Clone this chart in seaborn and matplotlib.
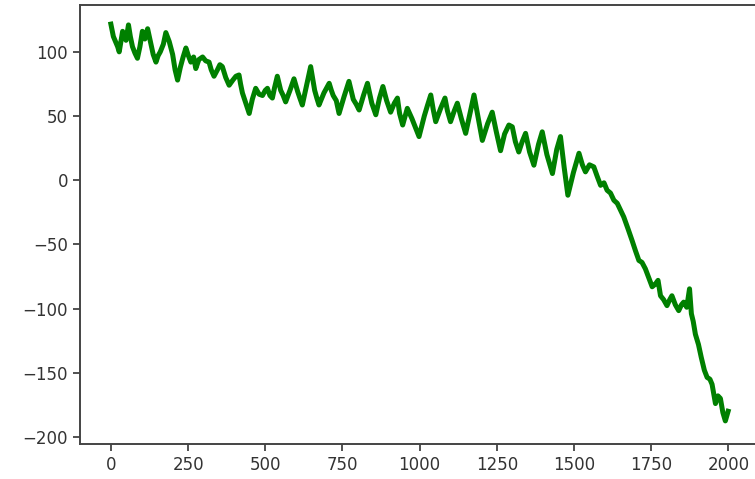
import matplotlib
matplotlib.use("Agg")
import matplotlib.pyplot as plt
import seaborn as sns
import pandas as pd

steps = [0, 8, 15, 22, 27, 33, 38, 44, 49, 57, 63, 70, 78, 86, 94, 102, 110, 119, 128, 137,
         146, 153, 160, 170, 178, 189, 200, 208, 216, 225, 234, 243, 251, 259, 268, 275,
         285, 297, 307, 318, 325, 334, 345, 353, 361, 372, 383, 395, 405, 415, 420, 426,
         437, 448, 458, 469, 480, 491, 500, 507, 515, 523, 530, 539, 550, 558, 566, 580,
         593, 605, 612, 620, 635, 647, 660, 667, 674, 690, 707, 714, 720, 730, 739, 755,
         771, 785, 795, 804, 818, 831, 845, 858, 870, 881, 893, 906, 918, 928, 935, 945,
         960, 975, 985, 998, 1015, 1025, 1036, 1044, 1052, 1068, 1082, 1090, 1100, 1112,
         1122, 1135, 1149, 1163, 1176, 1190, 1203, 1220, 1235, 1248, 1262, 1275, 1289,
         1300, 1310, 1321, 1332, 1343, 1356, 1370, 1385, 1397, 1412, 1430, 1444, 1456,
         1468, 1480, 1498, 1516, 1527, 1537, 1550, 1564, 1575, 1586, 1597, 1607, 1618,
         1629, 1640, 1650, 1661, 1675, 1688, 1699, 1710, 1720, 1731, 1742, 1753, 1763,
         1772, 1780, 1790, 1801, 1810, 1817, 1828, 1839, 1848, 1855, 1865, 1874, 1880,
         1886, 1893, 1903, 1912, 1922, 1931, 1940, 1947, 1958, 1966, 1974, 1982, 1990, 1999]
values = [121.6, 112, 108, 104, 100, 109, 116, 112, 109, 121, 112, 104, 99, 95, 104, 116, 110,
          118, 108, 98, 92, 97, 100, 106, 115, 108, 98, 86, 78, 88, 96, 103, 97, 92, 96, 87,
          94, 96, 93, 92, 86, 81, 86, 90, 88.5, 80, 74, 78, 81, 82, 75, 68,
          60, 52, 63, 71.6, 67, 66, 70, 71.6, 66, 64, 72, 81, 70, 66, 61, 70,
          79, 69, 64, 58.6, 75, 88.5, 70, 64, 58.6, 68, 75.5, 70, 66, 62, 52, 65,
          77, 63, 59, 54.7, 66, 75.5, 60, 51, 64, 73, 62, 53, 60, 64, 52, 43,
          56, 48, 42, 34, 50, 58, 66.4, 55, 45.6, 56, 64, 54, 45.6, 54,
          60, 48, 36.5, 52, 66.4, 48, 31, 44, 53, 38, 23, 36, 43,
          41.6, 30, 22, 30, 36.5, 22, 11.7, 28, 37.7, 20, 5.2, 24, 34,
          10, -11.7, 6, 21, 12, 6.5, 12, 10.4, 3, -4, -2, -7.8, -10,
          -15.6, -18, -23, -28.6, -38, -47, -55, -62.5, -64, -69, -76, -83, -81,
          -78, -90, -93, -97.7, -93, -90, -97, -101.6, -97, -95, -99, -84.6, -104,
          -110, -120, -128, -138, -148, -153.6, -155, -159, -174, -168, -170, -181, -187.5, -180]

xticks = [0, 250, 500, 750, 1000, 1250, 1500, 1750, 2000]
yticks = [-200, -150, -100, -50, 0, 50, 100]

df = pd.DataFrame({"step": steps, "value": values})

fig = plt.figure(figsize=(7.55, 4.79), dpi=100)
ax = fig.add_axes([80 / 755, 35 / 479, 679 / 755, 439 / 479])
sns.lineplot(data=df, x="step", y="value", color="green", linewidth=3.6, ax=ax)
ax.set_xlim(-100, 2099)
ax.set_ylim(-205.5, 136.5)
ax.set_xticks(xticks)
ax.set_yticks(yticks)
ax.set_xlabel("")
ax.set_ylabel("")
ax.tick_params(labelsize=12, length=5, width=1.2, colors="#333333")
for s in ax.spines.values():
    s.set_linewidth(1.4)
    s.set_color("#444444")
fig.savefig("out.png", dpi=100)
